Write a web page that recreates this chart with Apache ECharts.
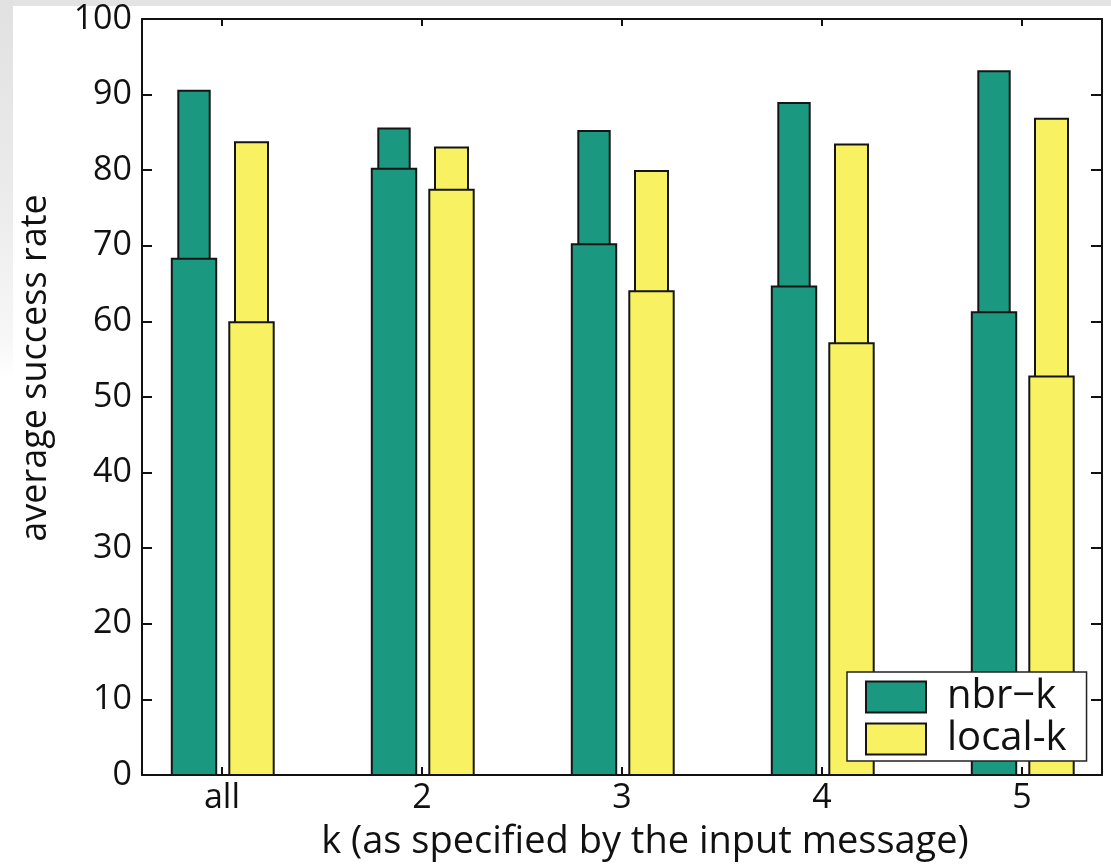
<!DOCTYPE html>
<html>
<head>
<meta charset="utf-8">
<script src="https://cdn.jsdelivr.net/npm/echarts@6/dist/echarts.min.js"></script>
<style>
  html, body { margin: 0; padding: 0; background: #ffffff; }
  #wrap { position: relative; width: 1111px; height: 866px; overflow: hidden; background: #ffffff; }
  #topband { position: absolute; left: 0; top: 0; width: 1111px; height: 6px; background: #e3e3e3; }
  #leftband { position: absolute; left: 0; top: 0; width: 13px; height: 380px;
    background: linear-gradient(to bottom, #e1e1e1 0%, #ebebeb 50%, #f6f6f6 88%, #ffffff 100%); }
  #chart { position: absolute; left: 0; top: 0; width: 1111px; height: 866px; }
</style>
</head>
<body>
<div id="wrap">
  <div id="topband"></div>
  <div id="leftband"></div>
  <div id="chart"></div>
</div>
<script>
// ---- data ----
const categories = ['all', '2', '3', '4', '5'];
const nbrUpper   = [90.5, 85.5, 85.2, 88.9, 93.1];   // narrow (taller) nbr-k bars
const nbrLower   = [68.3, 80.2, 70.2, 64.6, 61.2];   // wide nbr-k bars
const localUpper = [83.7, 83.0, 79.9, 83.4, 86.8];   // narrow (taller) local-k bars
const localLower = [59.9, 77.4, 64.0, 57.1, 52.7];   // wide local-k bars
const yTicks = [0, 10, 20, 30, 40, 50, 60, 70, 80, 90, 100];
const seriesNames = ['nbr\u2212k', 'local-k'];

const GREEN = '#1b9880';
const YELLOW = '#f8f263';
const EDGE = '#151515';
const FONT = '"Open Sans", "Noto Sans", sans-serif';

const catIdx = categories.map((c, i) => i);

function buildData(upper, lower) {
  return catIdx.map(i => [i, upper[i], lower[i]]);
}

function makeRender(offset, narrowW, wideW, color) {
  return function (params, api) {
    const x = api.value(0);
    const up = api.value(1);
    const lo = api.value(2);
    const base = api.coord([x + offset, 0]);
    const pu = api.coord([x + offset, up]);
    const pl = api.coord([x + offset, lo]);
    const nw = api.size([narrowW, 0])[0];
    const ww = api.size([wideW, 0])[0];
    return {
      type: 'group',
      children: [
        { type: 'rect', shape: { x: base[0] - nw / 2, y: pu[1], width: nw, height: base[1] - pu[1] },
          style: { fill: color, stroke: EDGE, lineWidth: 2 } },
        { type: 'rect', shape: { x: base[0] - ww / 2, y: pl[1], width: ww, height: base[1] - pl[1] },
          style: { fill: color, stroke: EDGE, lineWidth: 2 } }
      ]
    };
  };
}

const chart = echarts.init(document.getElementById('chart'), null, { renderer: 'canvas' });

const axisLineStyle = { color: '#111', width: 2 };

const option = {
  animation: false,
  backgroundColor: 'transparent',
  textStyle: { fontFamily: FONT },
  grid: { left: 142, top: 19, width: 960, height: 756, containLabel: false },
  legend: {
    orient: 'vertical',
    left: 847, top: 672,
    backgroundColor: '#ffffff',
    borderColor: '#222',
    borderWidth: 1.5,
    borderRadius: 0,
    padding: [5, 20, 2, 18],
    itemWidth: 60,
    itemHeight: 31,
    itemGap: 2,
    textStyle: { fontFamily: FONT, fontSize: 40, color: '#111', padding: [0, 0, 0, 16] },
    data: [
      { name: seriesNames[0], icon: 'rect', itemStyle: { color: GREEN, borderColor: EDGE, borderWidth: 2 } },
      { name: seriesNames[1], icon: 'rect', itemStyle: { color: YELLOW, borderColor: EDGE, borderWidth: 2 } }
    ]
  },
  xAxis: [
    {
      type: 'value', position: 'bottom', min: -0.4, max: 4.4,
      name: 'k (as specified by the input message)',
      nameLocation: 'middle', nameGap: 48,
      nameTextStyle: { fontFamily: FONT, fontSize: 38, color: '#111', padding: [0, 0, 0, 46] },
      axisLine: { show: true, onZero: false, lineStyle: axisLineStyle },
      axisTick: { show: true, inside: true, length: 8, customValues: catIdx, lineStyle: { color: '#111', width: 2 } },
      axisLabel: { show: true, customValues: catIdx, margin: 6, fontFamily: FONT, fontSize: 34, color: '#111',
        formatter: v => categories[Math.round(v)] },
      splitLine: { show: false }
    },
    {
      type: 'value', position: 'top', min: -0.4, max: 4.4,
      axisLine: { show: true, onZero: false, lineStyle: axisLineStyle },
      axisTick: { show: true, inside: true, length: 7, customValues: catIdx, lineStyle: { color: '#111', width: 2 } },
      axisLabel: { show: false },
      splitLine: { show: false }
    }
  ],
  yAxis: [
    {
      type: 'value', position: 'left', min: 0, max: 100, interval: 10,
      name: 'average success rate',
      nameLocation: 'middle', nameGap: 88,
      nameTextStyle: { fontFamily: FONT, fontSize: 36, color: '#111', padding: [0, 0, 0, 58] },
      axisLine: { show: true, onZero: false, lineStyle: axisLineStyle },
      axisTick: { show: true, inside: true, length: 10, customValues: yTicks, lineStyle: { color: '#111', width: 2 } },
      axisLabel: { show: true, customValues: yTicks, margin: 10, fontFamily: FONT, fontSize: 34, color: '#111' },
      splitLine: { show: false }
    },
    {
      type: 'value', position: 'right', min: 0, max: 100, interval: 10,
      axisLine: { show: true, onZero: false, lineStyle: axisLineStyle },
      axisTick: { show: true, inside: true, length: 11, customValues: yTicks, lineStyle: { color: '#111', width: 2 } },
      axisLabel: { show: false },
      splitLine: { show: false }
    }
  ],
  series: [
    {
      name: seriesNames[0], type: 'custom', xAxisIndex: 0, yAxisIndex: 0,
      itemStyle: { color: GREEN },
      renderItem: makeRender(-0.14, 0.157, 0.222, GREEN),
      encode: { x: 0, y: [1, 2] },
      data: buildData(nbrUpper, nbrLower),
      z: 2
    },
    {
      name: seriesNames[1], type: 'custom', xAxisIndex: 0, yAxisIndex: 0,
      itemStyle: { color: YELLOW },
      renderItem: makeRender(0.1475, 0.165, 0.222, YELLOW),
      encode: { x: 0, y: [1, 2] },
      data: buildData(localUpper, localLower),
      z: 2
    }
  ]
};

chart.setOption(option);
</script>
</body>
</html>
